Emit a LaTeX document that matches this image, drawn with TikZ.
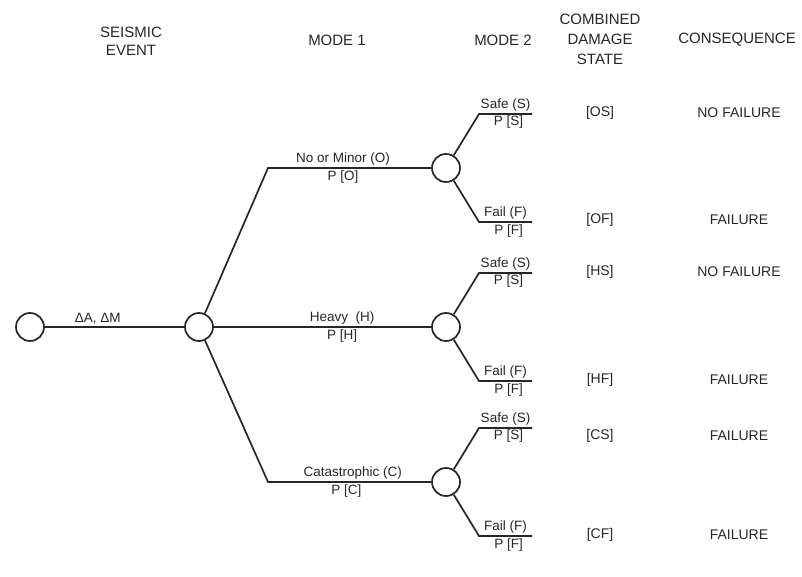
\documentclass[tikz,border=0pt]{standalone}
\usepackage{fontspec}
\setsansfont{Liberation Sans}
\begin{document}
\begin{tikzpicture}[font=\sffamily, color=black!85, x=10pt, y=10pt]

    % Stile globale per le linee
    \tikzstyle{every path}=[line width=1.7pt]
    \tikzstyle{nodo}=[circle, draw, minimum size=28pt, inner sep=0pt]
    \tikzstyle{titolo}=[font=\sffamily\fontsize{15}{20}\selectfont, align=center]
    \tikzstyle{ramo}=[font=\sffamily\fontsize{13.5}{15}\selectfont, inner sep=2pt]
    \tikzstyle{esito}=[font=\sffamily\fontsize{14}{16}\selectfont]

    % Dimensioni della figura
    \useasboundingbox (0,0) rectangle (80.2,57.7);

    % Intestazioni delle colonne
    \node[titolo] (hSisma) at (13.1, 53.6) {SEISMIC\\[-2pt]EVENT};
    \node[titolo] (hModo1) at (33.7, 53.7) {MODE 1};
    \node[titolo] (hModo2) at (50.3, 53.7) {MODE 2};
    \node[titolo] (hStato) at (60.0, 53.8) {COMBINED\\DAMAGE\\STATE};
    \node[titolo] (hCons) at (73.7, 53.7) {CONSEQUENCE};

    % Nodi di evento
    \node[nodo] (sisma) at (3.0, 25.0) {};
    \node[nodo] (modo1) at (19.9, 25.0) {};
    \node[nodo] (modo2O) at (44.6, 40.9) {};
    \node[nodo] (modo2H) at (44.6, 25.0) {};
    \node[nodo] (modo2C) at (44.6, 9.5) {};

    % Angoli dei rami del modo 1
    \coordinate (angoloO) at (26.8, 40.9);
    \coordinate (angoloC) at (26.8, 9.5);

    % Rami del modo 1
    \draw (sisma) -- node[ramo, above, pos=0.38] (dAM) {ΔA, ΔM} (modo1);
    \draw (modo1) -- (angoloO)
        -- node[ramo, above, pos=0.46] (lblO) {No or Minor (O)}
           node[ramo, below, pos=0.46] (probO) {P [O]} (modo2O);
    \draw (modo1)
        -- node[ramo, above, pos=0.59] (lblH) {Heavy\ \ (H)}
           node[ramo, below, pos=0.59] (probH) {P [H]} (modo2H);
    \draw (modo1) -- (angoloC)
        -- node[ramo, above, pos=0.52] (lblC) {Catastrophic (C)}
           node[ramo, below, pos=0.48] (probC) {P [C]} (modo2C);

    % Rami del modo 2
    \foreach \m in {O,H,C} {
        \path (modo2\m) ++(3.3, 5.4) coordinate (safe\m) ++(5.3, 0) coordinate (safeEnd\m);
        \path (modo2\m) ++(3.3, -5.4) coordinate (fail\m) ++(5.3, 0) coordinate (failEnd\m);
        \draw (modo2\m) -- (safe\m)
            -- node[ramo, above] (lblS\m) {Safe (S)}
               node[ramo, below, inner sep=1pt, xshift=3pt] (probS\m) {P [S]} (safeEnd\m);
        \draw (modo2\m) -- (fail\m)
            -- node[ramo, above] (lblF\m) {Fail (F)}
               node[ramo, below, xshift=3pt] (probF\m) {P [F]} (failEnd\m);
    }

    % Stati di danno combinati e conseguenze
    \foreach \stato/\conseg/\y in {OS/NO FAILURE/46.4, OF/FAILURE/35.7,
                                   HS/NO FAILURE/30.5, HF/FAILURE/19.7,
                                   CS/FAILURE/14.1, CF/FAILURE/4.2} {
        \node[esito] (stato\stato) at (60.0, \y) {[\stato]};
        \node[esito] (cons\stato) at (73.9, \y) {\conseg};
    }

\end{tikzpicture}
\end{document}
